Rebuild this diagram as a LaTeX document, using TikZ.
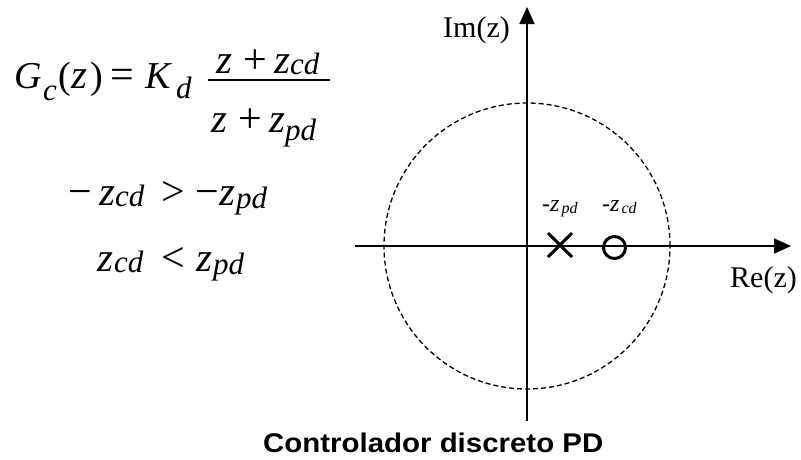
\documentclass[tikz,border=0pt]{standalone}
\usepackage{fontspec}
\setmainfont{Liberation Serif}
\newfontfamily\titlefont{Liberation Sans}
\usetikzlibrary{arrows.meta}
\newcommand\vz{\textit{z}}
\newcommand\smsub[1]{\raisebox{-2pt}{\fontsize{16}{16}\selectfont\itshape #1}}
\begin{document}
\begin{tikzpicture}[x=1pt,y=-1pt,
  pc/.style={anchor=base west,inner sep=0pt},
  mi/.style={pc,font=\fontsize{38}{38}\selectfont\itshape},
  mz/.style={pc,font=\fontsize{41}{41}\selectfont\itshape},
  mu/.style={pc,font=\fontsize{38}{38}\selectfont},
  op/.style={pc,font=\fontsize{42}{42}\selectfont},
  sb/.style={pc,font=\fontsize{31}{31}\selectfont\itshape},
  axlabel/.style={pc,font=\fontsize{30}{30}\selectfont},
  small/.style={pc,font=\fontsize{24}{24}\selectfont},
  axis/.style={line width=1.8pt,-{Triangle[length=17pt,width=15pt]}},
  marker/.style={line width=3pt}]
\useasboundingbox (0,0) rectangle (801,459);
% axes
\coordinate (xs) at (355,246);
\coordinate (xe) at (791,246);
\coordinate (ys) at (527,421);
\coordinate (ye) at (527,7);
\coordinate (o) at (527,246);
\draw[axis] (xs) -- (xe);
\draw[axis] (ys) -- (ye);
\draw[line width=1.3pt,dash pattern=on 5pt off 3pt] (o) circle[radius=143pt];
% pole and zero
\coordinate (p) at (560,245);
\coordinate (zr) at (614.5,247.5);
\draw[marker] ([shift={(-12pt,-12pt)}]p) -- ([shift={(12pt,12pt)}]p);
\draw[marker] ([shift={(-12pt,12pt)}]p) -- ([shift={(12pt,-12pt)}]p);
\draw[marker] (zr) circle[radius=11pt];
\node[small] (lp) at (542,211) {-\vz\hspace{2pt}\smsub{pd}};
\node[small] (lz) at (602,211) {-\vz\hspace{2pt}\smsub{cd}};
\node[axlabel] (im) at (443,37) {Im(z)};
\node[axlabel] (re) at (730,287) {Re(z)};
% line 1: G_c(z) = K_d
\node[mi] (g1) at (14,88) {G};
\node[sb] (g2) at (43,100) {c};
\node[mu] (g3) at (58,88) {(};
\node[mz] (g4) at (71,88) {z};
\node[mu] (g5) at (90,88) {)};
\node[op] (g6) at (110,88) {=};
\node[mi] (g7) at (145,88) {K};
\node[sb] (g8) at (176,98) {d};
% numerator
\node[mz] (n1) at (216,73) {z};
\node[op] (n2) at (243,73) {+};
\node[mz] (n3) at (274,73) {z};
\node[sb] (n4) at (290,74) {cd};
\coordinate (fl) at (208,80);
\coordinate (fr) at (330,80);
\draw[line width=1.2pt] (fl) -- (fr);
% denominator
\node[mz] (d1) at (211,132) {z};
\node[op] (d2) at (238,132) {+};
\node[mz] (d3) at (269,132) {z};
\node[sb] (d4) at (285,140) {pd};
% line 2
\node[op] (a1) at (68,205) {−};
\node[mz] (a2) at (99,205) {z};
\node[sb] (a3) at (115,206) {cd};
\node[op] (a4) at (161,205) {>};
\node[op] (a5) at (195,205) {−};
\node[mz] (a6) at (219,205) {z};
\node[sb] (a7) at (236,208) {pd};
% line 3
\node[mz] (b1) at (97,271) {z};
\node[sb] (b2) at (114,272) {cd};
\node[op] (b3) at (161,271) {<};
\node[mz] (b4) at (196,271) {z};
\node[sb] (b5) at (213,274) {pd};
% title
\node[pc,font=\titlefont\bfseries\fontsize{27}{27}\selectfont] (t) at (263,452) {\scalebox{1.09}[1]{Controlador discreto PD}};
\end{tikzpicture}
\end{document}
